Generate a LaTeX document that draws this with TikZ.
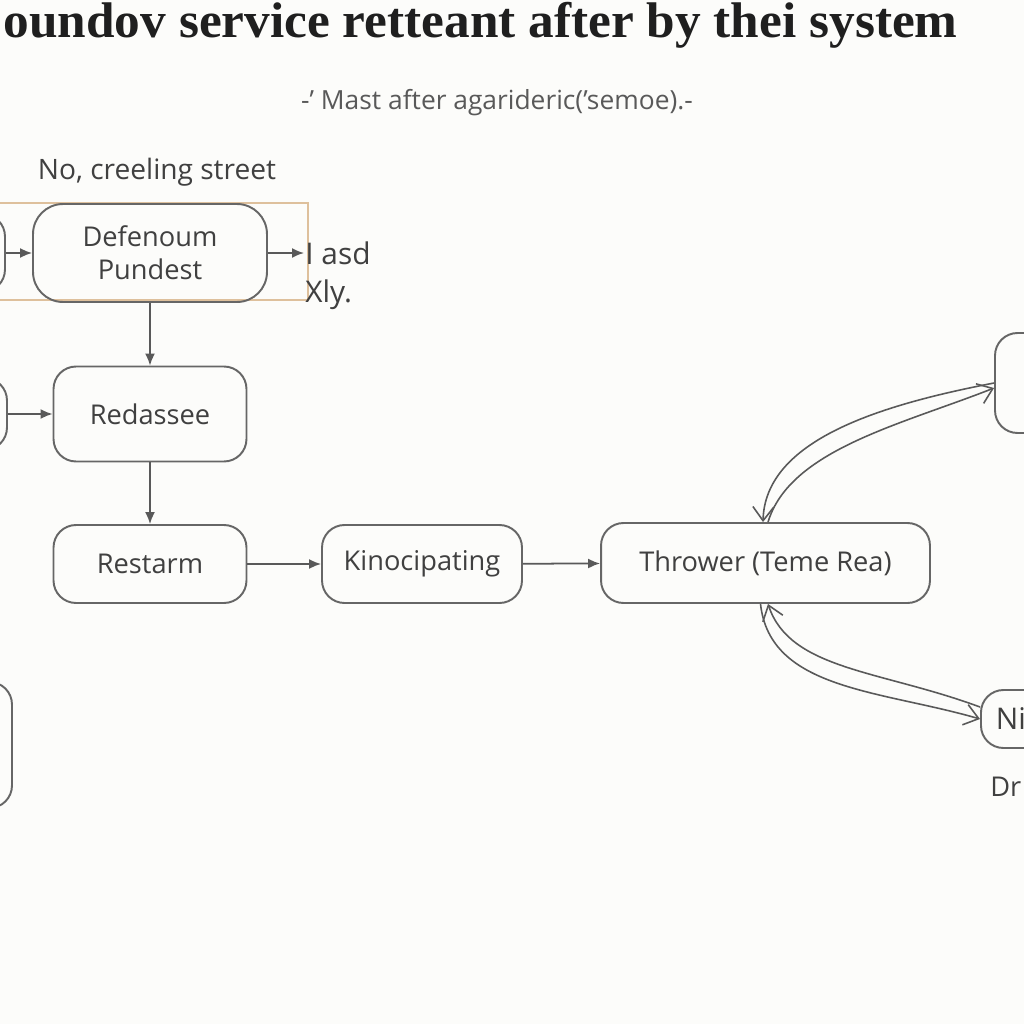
\documentclass[tikz,border=0pt]{standalone}
\usepackage{fontspec}
\setmainfont{Open Sans}
\newfontfamily\titlefont{Liberation Serif}
\usetikzlibrary{arrows.meta,positioning}
\definecolor{framec}{RGB}{222,192,156}
\definecolor{bgc}{RGB}{252,252,250}

\begin{document}
\begin{tikzpicture}[x=0.02cm, y=-0.02cm, font=\fontsize{15.5}{18.7}\selectfont,
  box/.style = {draw=black!60, line width=1.1pt, rounded corners=0.45cm, text=black!75, align=center, inner sep=0pt},
  lbl/.style = {text=black!75, inner sep=0pt},
  arr/.style = {-{Latex[length=2.4mm,width=2mm]}, draw=black!65, line width=1pt},
  barb/.style = {-{Straight Barb[length=2.8mm,width=4.2mm]}, draw=black!65, line width=0.9pt}]
  \useasboundingbox[fill=bgc] (0,0) rectangle (1024,1024);
  % headings
  \node[lbl, font=\titlefont\bfseries\fontsize{28.5}{34}\selectfont, text=black!88, anchor=base east] (title) at (958,38) {\scalebox{1.025}[1]{oundov service retteant after by thei system}};
  \node[lbl, text=black!65, font=\fontsize{15}{18}\selectfont] (sub) at (497,103) {-' Mast after agarideric('semoe).-};
  \node[lbl, font=\fontsize{16}{19}\selectfont] (street) at (157,172) {No, creeling street};
  % group frame
  \node[draw=framec, line width=0.6pt, minimum width=6.26cm, minimum height=1.94cm, inner sep=0pt] (grp) at (151.5,251.5) {};
  % main flow
  \node[box, minimum width=4.68cm, minimum height=1.96cm, rounded corners=0.6cm] (def) at (150,253) {Defenoum\\Pundest};
  \node[box, minimum width=3.86cm, minimum height=1.9cm] (red) at (150,414) {Redassee};
  \node[box, minimum width=3.86cm, minimum height=1.56cm] (rst) at (150,564) {Restarm};
  \node[box, minimum width=4cm, minimum height=1.56cm] (kino) at (422,564) {Kinocipating};
  \node[box, minimum width=6.58cm, minimum height=1.6cm] (thr) at (765.5,563) {Thrower (Teme Rea)};
  % cut nodes at the edges
  \node[box, minimum width=2cm, minimum height=1.56cm] (l0) at (-45,253) {};
  \node[box, minimum width=2cm, minimum height=1.44cm] (l1) at (-43,414) {};
  \node[box, minimum width=2cm, minimum height=2.52cm] (l2) at (-38,745) {};
  \node[box, minimum width=2cm, minimum height=2cm] (rt) at (1045,383) {};
  \node[box, anchor=west, text width=1.5cm, align=left, inner xsep=0.3cm, minimum height=1.16cm, font=\fontsize{17}{20}\selectfont] (ni) at (980,719) {Ni};
  \node[lbl, anchor=west] (dr) at (990,787) {Dr};
  \node[lbl, anchor=west, align=left, font=\fontsize{17}{21.5}\selectfont] (asd) at (305,276) {I asd\\Xly.};
  \coordinate (asdin) at (304,253);
  % arrows
  \draw[arr] (l0) -- (def);
  \draw[arr] (def) -- (asdin);
  \draw[arr] (def) -- (red);
  \draw[arr] (l1) -- (red);
  \draw[arr] (red) -- (rst);
  \draw[arr] (rst) -- (kino);
  \draw[arr] (kino) -- (thr);
  \draw[barb] (rt.west) .. controls (880,405) and (765,440) .. ([xshift=-0.05cm]thr.north);
  \draw[barb] ([xshift=0.05cm]thr.north) .. controls (790,450) and (900,425) .. ([yshift=-0.1cm]rt.west);
  \draw[barb] ([xshift=-0.1cm]thr.south) .. controls (770,690) and (880,690) .. (ni.west);
  \draw[barb] ([yshift=0.24cm]ni.west) .. controls (880,670) and (790,670) .. ([xshift=0.05cm]thr.south);
\end{tikzpicture}
\end{document}
